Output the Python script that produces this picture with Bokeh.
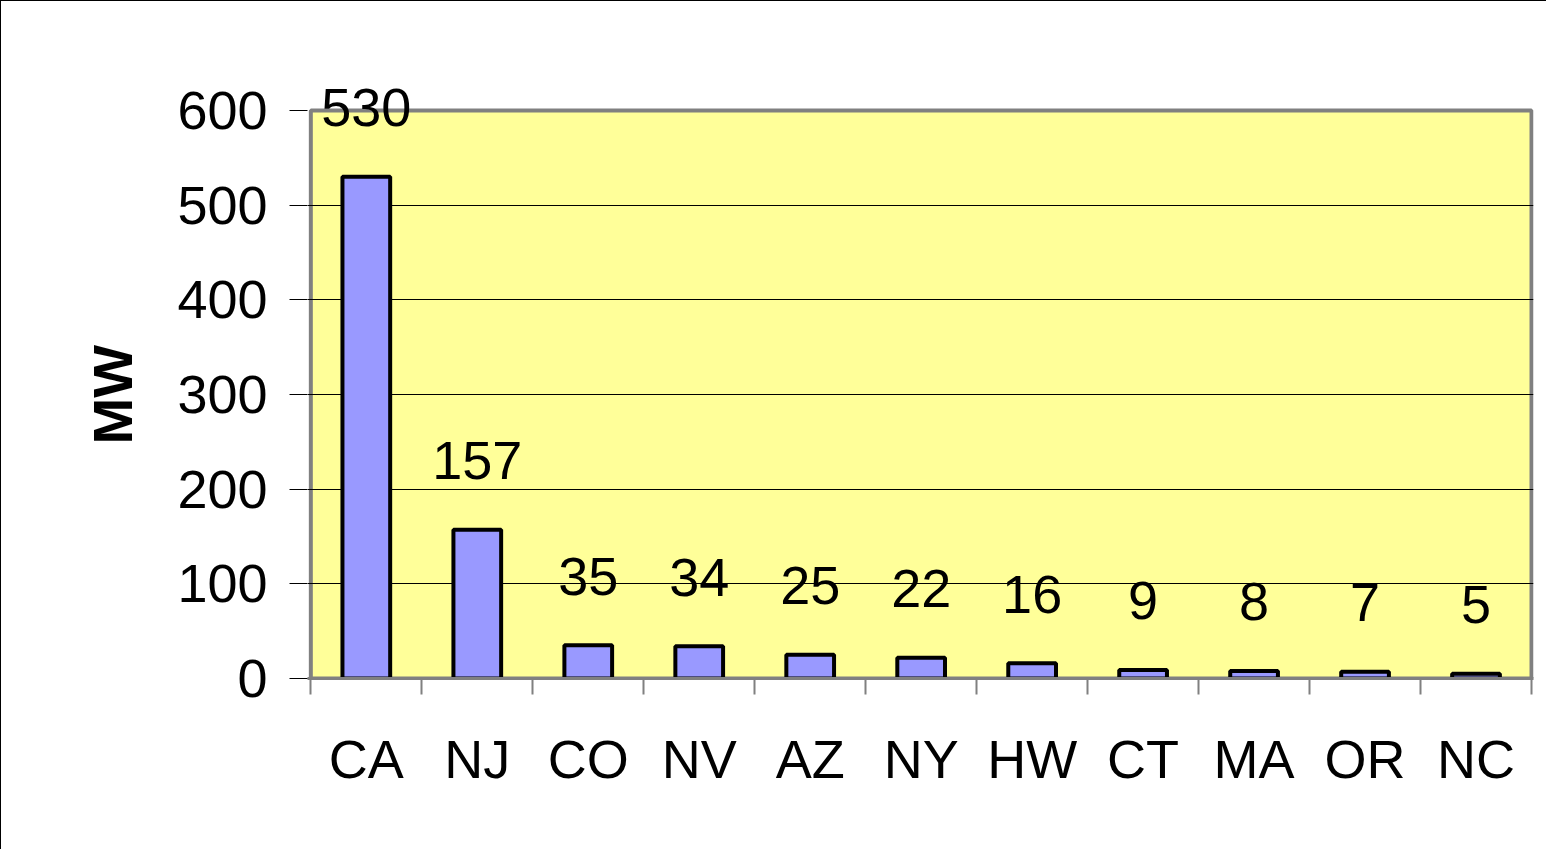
from bokeh.plotting import figure
from bokeh.models import FixedTicker, Range1d, ColumnDataSource, Title
from bokeh.embed import file_html
from bokeh.resources import INLINE
from bokeh.core.properties import value

states = ["CA", "NJ", "CO", "NV", "AZ", "NY", "HW", "CT", "MA", "OR", "NC"]
mw = [530, 157, 35, 34, 25, 22, 16, 9, 8, 7, 5]
y_ticks = [0, 100, 200, 300, 400, 500, 600]

centers = [i + 0.5 for i in range(len(states))]
bounds = list(range(len(states) + 1))

src = ColumnDataSource(dict(x=centers, top=mw, label=[str(v) for v in mw]))

FONT = "Liberation Sans"
y_max = y_ticks[-1]
n = len(states)

p = figure(width=1546, height=849, output_backend="svg", toolbar_location=None,
           x_range=Range1d(-0.03, n + 0.018), y_range=Range1d(0, y_max + 40),
           min_border_left=306, min_border_right=14, min_border_top=71,
           min_border_bottom=172)
p.styles = {"border-left": "1px solid black", "border-top": "1px solid black"}

p.background_fill_color = "white"
p.border_fill_color = "white"
p.outline_line_color = None

# plot area (yellow box with grey frame) spanning the value axis 0..600
p.quad(left=[0], right=[n], bottom=[0], top=[y_max],
       fill_color="#FFFF99", line_color="#808080", line_width=4, level="image")

p.vbar(x="x", top="top", width=0.43, source=src, fill_color="#9999FF",
       line_color="black", line_width=4)
p.text(x="x", y="top", text="label", source=src, text_align="center",
       text_baseline="alphabetic", y_offset=-69, text_font=value(FONT),
       text_font_size="54px", text_color="black")

# x axis
xa = p.xaxis[0]
xa.ticker = FixedTicker(ticks=centers, minor_ticks=bounds)
xa.major_label_overrides = {c: s for c, s in zip(centers, states)}
xa.major_tick_out = 0
xa.major_tick_in = 0
xa.minor_tick_out = 16
xa.minor_tick_in = 0
xa.minor_tick_line_color = "#808080"
xa.minor_tick_line_width = 2
xa.axis_line_color = "#808080"
xa.axis_line_width = 3
xa.major_label_text_font = FONT
xa.major_label_text_font_size = "54px"
xa.major_label_text_color = "black"
xa.major_label_standoff = 34
p.xgrid.grid_line_color = None

# y axis
ya = p.yaxis[0]
ya.ticker = FixedTicker(ticks=y_ticks)
ya.major_tick_out = 18
ya.major_tick_in = 0
ya.major_tick_line_color = "black"
ya.major_tick_line_width = 1
ya.minor_tick_line_color = None
ya.axis_line_color = None
ya.major_label_text_font = FONT
ya.major_label_text_font_size = "54px"
ya.major_label_text_color = "black"
ya.major_label_standoff = 22
p.ygrid[0].ticker = FixedTicker(ticks=y_ticks[1:-1])
p.ygrid.grid_line_color = "black"
p.ygrid.grid_line_width = 1

mw_title = Title(text="MW", align="left", offset=234, standoff=62,
                 text_font=FONT, text_font_style="bold", text_font_size="56px",
                 text_color="black")
p.add_layout(mw_title, "left")

open("out.html", "w").write(file_html(p, INLINE))
